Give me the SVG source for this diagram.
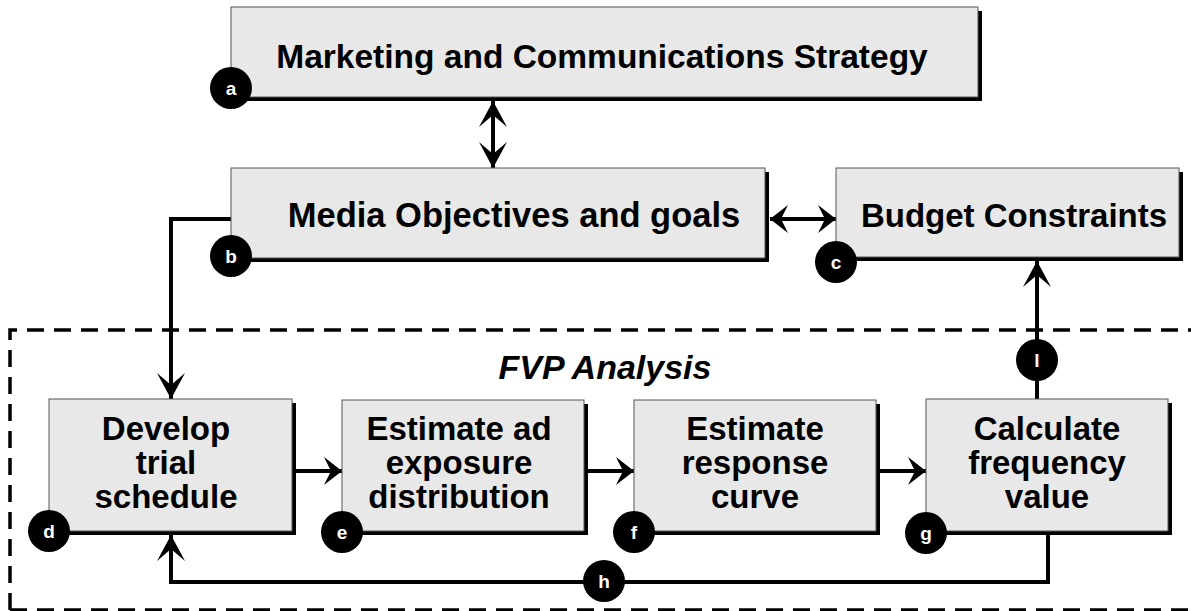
<svg xmlns="http://www.w3.org/2000/svg" width="1191" height="611" viewBox="0 0 1191 611">
<defs>
<style>
.shadow{fill:#000}
.box{fill:#e8e8e8;stroke:#555;stroke-width:1}
.t{font-family:"Liberation Sans",Arial,sans-serif;font-weight:bold;font-size:33px;fill:#000;text-anchor:middle}
.fvp{font-style:italic;font-size:34px}
.lab{fill:#000}
.lt{font-family:"Liberation Sans",Arial,sans-serif;font-weight:bold;font-size:19px;fill:#fff;text-anchor:middle}
.ln{fill:none;stroke:#000;stroke-width:4}
.dash{fill:none;stroke:#000;stroke-width:3.5;stroke-dasharray:17 10}
</style>
<marker id="ah" viewBox="-19 -15 21 30" refX="0" refY="0" markerWidth="21" markerHeight="30" markerUnits="userSpaceOnUse" orient="auto-start-reverse">
<path d="M0,0 L-18,-14 L-11,0 L-18,14 Z" fill="#000"/>
</marker>
<marker id="ahv" viewBox="-28 -15 30 30" refX="0" refY="0" markerWidth="30" markerHeight="30" markerUnits="userSpaceOnUse" orient="auto-start-reverse">
<path d="M0,0 L-26,-14 L-14,0 L-26,14 Z" fill="#000"/>
</marker>
</defs>
<path class="dash" d="M10,610 L10,330 L1191,330 M10,610 L1191,610"/>
<text class="t fvp" x="605" y="379">FVP Analysis</text>
<g id="connectors">
<line class="ln" x1="493" y1="101" x2="493" y2="168" marker-start="url(#ahv)" marker-end="url(#ahv)"/>
<line class="ln" x1="770" y1="219" x2="836" y2="219" marker-start="url(#ah)" marker-end="url(#ah)"/>
<polyline class="ln" points="231,219 171,219 171,399" marker-end="url(#ahv)"/>
<line class="ln" x1="296" y1="471" x2="342" y2="471" marker-end="url(#ah)"/>
<line class="ln" x1="588" y1="471" x2="634" y2="471" marker-end="url(#ah)"/>
<line class="ln" x1="880" y1="471" x2="926" y2="471" marker-end="url(#ah)"/>
<polyline class="ln" points="1048,535 1048,582 171,582 171,535" marker-end="url(#ahv)"/>
<line class="ln" x1="1037" y1="399" x2="1037" y2="261" marker-end="url(#ahv)"/>
</g>
<g id="node-a">
<rect class="shadow" x="235" y="11" width="747" height="90"/>
<rect class="box" x="231" y="7" width="747" height="90"/>
<text class="t" x="602" y="68" style="font-size:33.5px">Marketing and Communications Strategy</text>
<circle class="lab" cx="231" cy="88" r="21"/><text class="lt" x="231" y="95">a</text>
</g>
<g id="node-b">
<rect class="shadow" x="235" y="172" width="534" height="90"/>
<rect class="box" x="231" y="168" width="534" height="90"/>
<text class="t" x="514" y="227" style="font-size:34.5px">Media Objectives and goals</text>
<circle class="lab" cx="231" cy="256" r="21"/><text class="lt" x="231" y="263">b</text>
</g>
<g id="node-c">
<rect class="shadow" x="840" y="172" width="343" height="89"/>
<rect class="box" x="836" y="168" width="343" height="89"/>
<text class="t" x="1014" y="227">Budget Constraints</text>
<circle class="lab" cx="836" cy="262" r="21"/><text class="lt" x="836" y="269">c</text>
</g>
<g id="node-d">
<rect class="shadow" x="53" y="403" width="243" height="132"/>
<rect class="box" x="49" y="399" width="243" height="132"/>
<text class="t" x="166" y="440">Develop</text>
<text class="t" x="166" y="474">trial</text>
<text class="t" x="166" y="508">schedule</text>
<circle class="lab" cx="49" cy="531" r="21"/><text class="lt" x="49" y="538">d</text>
</g>
<g id="node-e">
<rect class="shadow" x="346" y="404" width="242" height="131"/>
<rect class="box" x="342" y="400" width="242" height="131"/>
<text class="t" x="459" y="440">Estimate ad</text>
<text class="t" x="459" y="474">exposure</text>
<text class="t" x="459" y="508">distribution</text>
<circle class="lab" cx="342" cy="532" r="21"/><text class="lt" x="342" y="539">e</text>
</g>
<g id="node-f">
<rect class="shadow" x="638" y="404" width="242" height="131"/>
<rect class="box" x="634" y="400" width="242" height="131"/>
<text class="t" x="755" y="440">Estimate</text>
<text class="t" x="755" y="474">response</text>
<text class="t" x="755" y="508">curve</text>
<circle class="lab" cx="634" cy="532" r="21"/><text class="lt" x="634" y="539">f</text>
</g>
<g id="node-g">
<rect class="shadow" x="930" y="403" width="242" height="132"/>
<rect class="box" x="926" y="399" width="242" height="132"/>
<text class="t" x="1047" y="440">Calculate</text>
<text class="t" x="1047" y="474">frequency</text>
<text class="t" x="1047" y="508">value</text>
<circle class="lab" cx="926" cy="533" r="21"/><text class="lt" x="926" y="540">g</text>
</g>
<g id="node-h">
<circle class="lab" cx="604" cy="581" r="21"/><text class="lt" x="604" y="588">h</text>
</g>
<g id="node-l">
<circle class="lab" cx="1037" cy="360" r="21"/><text class="lt" x="1037" y="367">l</text>
</g>
</svg>
